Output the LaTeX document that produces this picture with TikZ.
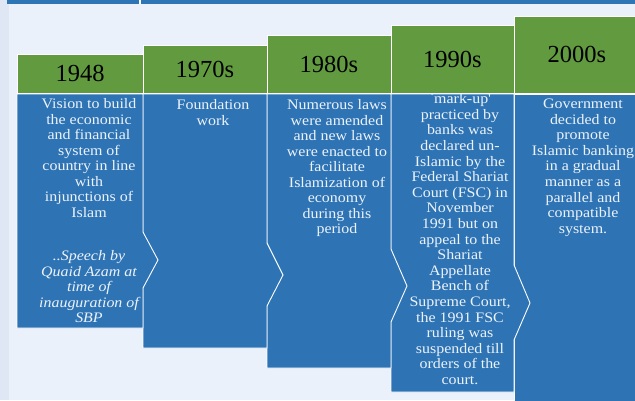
\documentclass[tikz,border=0pt]{standalone}
\usepackage{fontspec}
\setmainfont{Liberation Serif}
\newfontfamily\bodyfont{Liberation Serif}[FakeStretch=1.1]

\definecolor{pagebg}{HTML}{EBF1FA}
\definecolor{stripbg}{HTML}{DEE7F3}
\definecolor{barblue}{HTML}{2E75B6}
\definecolor{bodyblue}{HTML}{2E74B5}
\definecolor{headgreen}{HTML}{629A40}
\definecolor{bodytext}{HTML}{EDF2F9}

\tikzset{
  bodyshape/.style={fill=bodyblue, draw=white, line width=0.9pt, line join=miter},
  headshape/.style={fill=headgreen, draw=white, line width=0.9pt},
  yearlabel/.style={font=\fontsize{24.5}{28}\selectfont, text=black, inner sep=0pt},
  bodylabel/.style={font=\bodyfont\fontsize{14.5}{15.5}\selectfont, text=bodytext,
    align=center, anchor=north, inner sep=0pt},
}

\begin{document}
\begin{tikzpicture}[x=1pt,y=-1pt]
\useasboundingbox (0,0) rectangle (635,400);

% page background, left strip and top bar
\fill[pagebg] (0,0) rectangle (635,400);
\fill[stripbg] (0,0) rectangle (9,400);
\fill[barblue] (7,0) rectangle (635,3.5);
\fill[white] (139,0) rectangle (140.5,3.5);

% column bodies, drawn right to left so each chevron lies over its neighbour
\draw[bodyshape] (514,94) -- (645,94) -- (645,410) -- (514,410) -- cycle;
\draw[bodyshape] (391,94) -- (514,94) -- (514,265) -- (530,303) -- (514,340)
  -- (514,392) -- (391,392) -- cycle;
\draw[bodyshape] (267,94) -- (391,94) -- (391,249) -- (407,286) -- (391,322)
  -- (391,368) -- (267,368) -- cycle;
\draw[bodyshape] (143,94) -- (267,94) -- (267,243) -- (283,275) -- (267,306)
  -- (267,348) -- (143,348) -- cycle;
\draw[bodyshape] (17,94) -- (143,94) -- (143,232) -- (158,260) -- (143,288)
  -- (143,328) -- (17,328) -- cycle;

% body texts
\node[bodylabel] (t1948) at (89,98.6) {Vision to build\\the economic\\and financial\\system of\\country in line\\with\\injunctions of\\Islam};
\node[bodylabel, font=\bodyfont\itshape\fontsize{14.5}{15.5}\selectfont] (q1948) at (89,250.6) {..Speech by\\Quaid Azam at\\time of\\inauguration of\\SBP};
\node[bodylabel] (t1970) at (213,99.6) {Foundation\\work};
\node[bodylabel] (t1980) at (337,99.6) {Numerous laws\\were amended\\and new laws\\were enacted to\\facilitate\\Islamization of\\economy\\during this\\period};
\node[bodylabel, font=\bodyfont\fontsize{14.5}{15.6}\selectfont] (t1990) at (460,93.5) {`mark-up'\\practiced by\\banks was\\declared un-\\Islamic by the\\Federal Shariat\\Court (FSC) in\\November\\1991 but on\\appeal to the\\Shariat\\Appellate\\Bench of\\Supreme Court,\\the 1991 FSC\\ruling was\\suspended till\\orders of the\\court.};
\node[bodylabel, font=\bodyfont\fontsize{14.5}{15.6}\selectfont] (t2000) at (583,98.6) {Government\\decided to\\promote\\Islamic banking\\in a gradual\\manner as a\\parallel and\\compatible\\system.};

% year headers
\draw[headshape] (17,54) rectangle (143,93.5);
\draw[headshape] (143,45) rectangle (267,93.5);
\draw[headshape] (267,35.5) rectangle (391,93.5);
\draw[headshape] (391,25) rectangle (514,93.5);
\draw[headshape] (514,16) rectangle (645,93.5);

\node[yearlabel] (y1948) at (80,73.5) {1948};
\node[yearlabel] (y1970) at (205,69) {1970s};
\node[yearlabel] (y1980) at (329,64.5) {1980s};
\node[yearlabel] (y1990) at (452.5,59) {1990s};
\node[yearlabel] (y2000) at (577,54.5) {2000s};
\end{tikzpicture}
\end{document}
